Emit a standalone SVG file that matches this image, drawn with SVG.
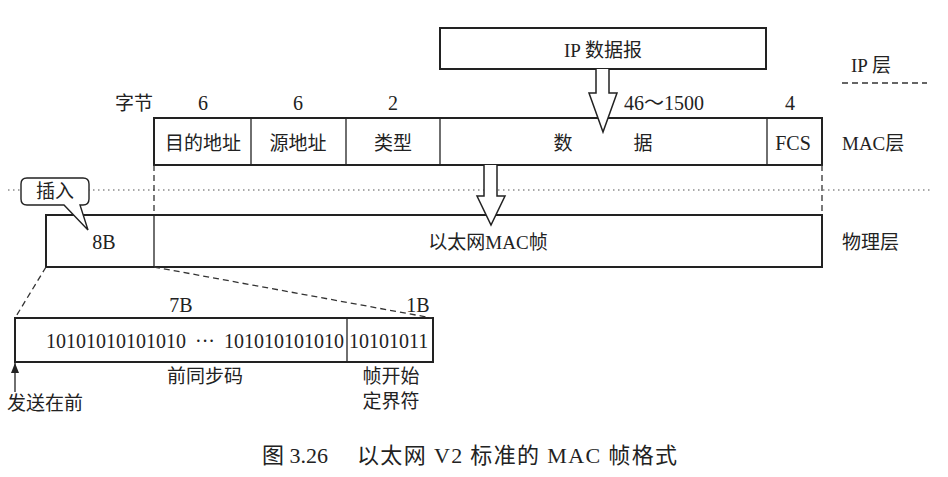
<svg xmlns="http://www.w3.org/2000/svg" width="948" height="477" viewBox="0 0 948 477">
  <style>
    text { font-family: "Liberation Serif", "Noto Sans CJK SC", serif; font-size: 19px; fill: #222; }
    .num { font-size: 20px; }
    .mid { text-anchor: middle; }
    .box { fill: #fff; stroke: #222; stroke-width: 2; }
    .div { stroke: #222; stroke-width: 1.3; fill: none; }
    .dash { stroke: #333; stroke-width: 1.3; stroke-dasharray: 6 4; fill: none; }
    .dot { stroke: #555; stroke-width: 1.2; stroke-dasharray: 1.5 3.5; fill: none; }
    .hollow { fill: #fff; stroke: #222; stroke-width: 1.5; stroke-linejoin: miter; }
    .cap { font-size: 22px; }
  </style>
  <defs>
    <marker id="tip" markerWidth="10" markerHeight="8" refX="10" refY="4" orient="auto" markerUnits="userSpaceOnUse">
      <path d="M0,0 L10,4 L0,8 Z" fill="#222"/>
    </marker>
  </defs>

  <!-- layer separators -->
  <g id="separators">
    <line class="dot" x1="8" y1="190" x2="930" y2="190"/>
    <line class="dash" x1="842" y1="83" x2="927" y2="83"/>
  </g>

  <!-- side labels -->
  <g id="layer-labels">
    <text x="851" y="72">IP 层</text>
    <text x="842" y="150">MAC层</text>
    <text x="842" y="249">物理层</text>
  </g>

  <!-- IP datagram -->
  <g id="ip-datagram">
    <rect class="box" x="440" y="28" width="326" height="41"/>
    <text class="mid" x="603" y="57">IP 数据报</text>
  </g>

  <!-- byte counts -->
  <g id="byte-counts">
    <text x="115" y="110">字节</text>
    <text class="mid num" x="203" y="110">6</text>
    <text class="mid num" x="298" y="110">6</text>
    <text class="mid num" x="393" y="110">2</text>
    <text class="num" x="624" y="110">46～1500</text>
    <text class="mid num" x="790" y="110">4</text>
  </g>

  <!-- MAC frame -->
  <g id="mac-frame">
    <rect class="box" x="154" y="118" width="668" height="47"/>
    <line class="div" x1="251" y1="118" x2="251" y2="165"/>
    <line class="div" x1="346" y1="118" x2="346" y2="165"/>
    <line class="div" x1="440" y1="118" x2="440" y2="165"/>
    <line class="div" x1="767" y1="118" x2="767" y2="165"/>
    <text class="mid" x="203" y="150">目的地址</text>
    <text class="mid" x="298" y="150">源地址</text>
    <text class="mid" x="393" y="150">类型</text>
    <text class="mid" y="150"><tspan x="563">数</tspan><tspan x="643">据</tspan></text>
    <text class="mid num" x="793" y="150">FCS</text>
  </g>

  <!-- physical-layer frame -->
  <g id="phy-frame">
    <rect class="box" x="46" y="215" width="776" height="52"/>
    <line class="div" x1="154" y1="215" x2="154" y2="267"/>
    <text class="mid num" x="104" y="249">8B</text>
    <text class="mid" x="488" y="249">以太网MAC帧</text>
  </g>

  <!-- callout -->
  <g id="insert-callout">
    <path d="M27,178 H83 Q89,178 89,184 V199 Q89,205 83,205 H80 L88,230 L64,205 H27 Q21,205 21,199 V184 Q21,178 27,178 Z" fill="#fff" stroke="#222" stroke-width="1.4"/>
    <text class="mid" x="55" y="198">插入</text>
  </g>

  <!-- preamble detail -->
  <g id="preamble">
    <rect class="box" x="15" y="318" width="418" height="44"/>
    <line class="div" x1="347" y1="318" x2="347" y2="362"/>
    <text class="mid num" x="181" y="312">7B</text>
    <text class="mid num" x="418" y="312">1B</text>
    <text class="num" x="46" y="348">10101010101010 <tspan x="195">··· </tspan><tspan x="224">101010101010</tspan></text>
    <text class="num" x="349" y="348">10101011</text>
    <text class="mid" x="205" y="383">前同步码</text>
    <text class="mid" x="391" y="383">帧开始</text>
    <text class="mid" x="391" y="408">定界符</text>
    <text x="7" y="410">发送在前</text>
  </g>

  <!-- connectors -->
  <g id="connectors">
    <line class="dash" x1="154" y1="165" x2="154" y2="215"/>
    <line class="dash" x1="822" y1="165" x2="822" y2="215"/>
    <line class="dash" x1="46" y1="267" x2="15" y2="318"/>
    <line class="dash" x1="154" y1="267" x2="432" y2="318"/>
    <path class="hollow" d="M596,69 V93 H589 L603,132 L617,93 H609 V69"/>
    <path class="hollow" d="M484,165 V196 H477 L491,225 L505,196 H497 V165"/>
    <line x1="15" y1="392" x2="15" y2="363" stroke="#222" stroke-width="1.3" marker-end="url(#tip)"/>
  </g>

  <!-- caption -->
  <g id="caption">
    <text class="cap" x="262" y="463">图 3.26<tspan x="357" textLength="320" lengthAdjust="spacing">以太网 V2 标准的 MAC 帧格式</tspan></text>
  </g>
</svg>
